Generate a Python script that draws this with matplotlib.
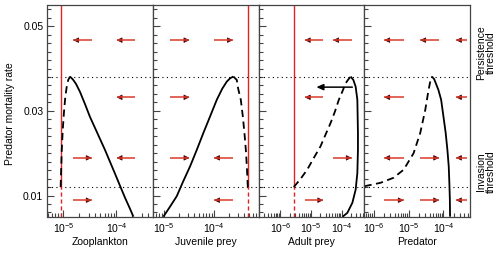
import matplotlib
matplotlib.use('Agg')
import matplotlib.pyplot as plt
import matplotlib.ticker as mt
from matplotlib.patches import FancyArrowPatch

plt.rcParams['font.family'] = ['Liberation Sans', 'DejaVu Sans']
plt.rcParams['mathtext.fontset'] = 'custom'
plt.rcParams['mathtext.rm'] = 'Liberation Sans'
plt.rcParams['mathtext.it'] = 'Liberation Sans:italic'
plt.rcParams['mathtext.default'] = 'regular'

# ---------------- data ----------------
panel_names = ['Zooplankton', 'Juvenile prey', 'Adult prey', 'Predator']
xlims = [(5.0e-6, 4.9e-4), (6.0e-6, 7.9e-4), (2.0e-7, 5.6e-4), (5.4e-7, 5.8e-4)]
ylim = (0.005, 0.055)
persistence = 0.0381
invasion = 0.012

# stable (solid) branches
zoo_stable_x = [1.33e-5, 1.51e-5, 1.72e-5, 2.05e-5, 2.55e-5, 3.16e-5, 3.93e-5, 4.88e-5,
                6.07e-5, 7.54e-5, 9.37e-5, 1.16e-4, 1.45e-4, 1.80e-4, 2.09e-4]
zoo_stable_y = [0.0381, 0.0374, 0.0364, 0.0345, 0.0316, 0.0286, 0.0260, 0.0234,
                0.0208, 0.0180, 0.0152, 0.0124, 0.0095, 0.0069, 0.0050]
juv_stable_x = [9.68e-6, 1.32e-5, 1.79e-5, 2.4e-5, 3.31e-5, 4.51e-5, 6.11e-5, 8.32e-5,
                1.13e-4, 1.45e-4, 1.79e-4, 2.09e-4, 2.43e-4]
juv_stable_y = [0.0050, 0.00741, 0.00984, 0.0133, 0.0169, 0.0208, 0.0248, 0.0287,
                0.0326, 0.0352, 0.0369, 0.0377, 0.0381]
adu_stable_x = [1.97e-4, 2.42e-4, 2.88e-4, 3.27e-4, 3.42e-4, 3.42e-4, 3.27e-4, 2.88e-4,
                2.25e-4, 1.54e-4, 1.08e-4]
adu_stable_y = [0.0381, 0.0373, 0.0357, 0.0326, 0.0248, 0.0208, 0.0153, 0.0114,
                0.0083, 0.0059, 0.0050]
pre_stable_x = [4.65e-5, 5.42e-5, 7.2e-5, 8.6e-5, 1.0e-4, 1.16e-4, 1.30e-4, 1.42e-4,
                1.48e-4, 1.53e-4, 1.55e-4]
pre_stable_y = [0.0381, 0.0375, 0.0349, 0.0326, 0.0287, 0.0248, 0.0208, 0.0169,
                0.0130, 0.0091, 0.0050]

# unstable (dashed) branches
zoo_unstable_x = [8.85e-6, 9.05e-6, 9.29e-6, 9.7e-6, 1.02e-5, 1.08e-5, 1.15e-5, 1.23e-5, 1.33e-5]
zoo_unstable_y = [0.0120, 0.0161, 0.0208, 0.0255, 0.0295, 0.0331, 0.0356, 0.0373, 0.0381]
juv_unstable_x = [2.43e-4, 2.84e-4, 3.02e-4, 3.42e-4, 3.75e-4, 4.04e-4, 4.31e-4, 4.51e-4, 4.72e-4]
juv_unstable_y = [0.0381, 0.0373, 0.0353, 0.0326, 0.0287, 0.0248, 0.0208, 0.0169, 0.0120]
adu_unstable_x = [2.73e-6, 4.53e-6, 7.5e-6, 1.24e-5, 2.04e-5, 2.99e-5, 4.35e-5, 6.03e-5,
                  8.1e-5, 1.05e-4, 1.35e-4, 1.61e-4, 1.97e-4]
adu_unstable_y = [0.0120, 0.0139, 0.0161, 0.0189, 0.0216, 0.0244, 0.0271, 0.0298,
                  0.0326, 0.0345, 0.0365, 0.0373, 0.0381]
pre_unstable_x = [5.4e-7, 1.55e-6, 3.7e-6, 7.2e-6, 1.39e-5, 2.16e-5, 3.0e-5, 3.73e-5, 4.2e-5, 4.65e-5]
pre_unstable_y = [0.0122, 0.0130, 0.0142, 0.0161, 0.0200, 0.0248, 0.0302, 0.0349, 0.0370, 0.0381]

stable_x = [zoo_stable_x, juv_stable_x, adu_stable_x, pre_stable_x]
stable_y = [zoo_stable_y, juv_stable_y, adu_stable_y, pre_stable_y]
unstable_x = [zoo_unstable_x, juv_unstable_x, adu_unstable_x, pre_unstable_x]
unstable_y = [zoo_unstable_y, juv_unstable_y, adu_unstable_y, pre_unstable_y]

# trivial-equilibrium (red) vertical lines per panel (None = none)
boundary_x = [8.85e-6, 4.72e-4, 2.73e-6, None]

# red flow arrows: (x_tail, x_head, y)
r1, r2, r3, r4 = 0.0467, 0.0332, 0.0189, 0.0089
arrows = [
    [(3.4e-5, 1.53e-5, r1), (2.23e-4, 1.01e-4, r1), (2.23e-4, 1.01e-4, r2),
     (1.53e-5, 3.4e-5, r3), (2.23e-4, 1.01e-4, r3), (1.53e-5, 3.4e-5, r4)],
    [(1.32e-5, 3.2e-5, r1), (1.0e-4, 2.37e-4, r1), (1.32e-5, 3.2e-5, r2),
     (1.32e-5, 3.2e-5, r3), (2.37e-4, 1.0e-4, r3), (2.37e-4, 1.0e-4, r4)],
    [(2.5e-5, 6.3e-6, r1), (2.13e-4, 5.3e-5, r1), (2.5e-5, 6.3e-6, r2),
     (5.3e-5, 2.13e-4, r3), (6.3e-6, 2.5e-5, r4)],
    [(7.2e-6, 2.0e-6, r1), (7.5e-5, 2.16e-5, r1), (4.85e-4, 2.3e-4, r1),
     (7.2e-6, 2.0e-6, r2), (4.85e-4, 2.3e-4, r2),
     (7.2e-6, 2.0e-6, r3), (2.16e-5, 7.5e-5, r3), (4.85e-4, 2.3e-4, r3),
     (2.0e-6, 7.2e-6, r4), (2.16e-5, 7.5e-5, r4), (4.85e-4, 2.3e-4, r4)],
]
# black arrow in adult-prey panel
black_arrow = (2.24e-4, 1.5e-5, 0.0356)

# ---------------- figure ----------------
W, H = 502, 254
fig = plt.figure(figsize=(W / 100, H / 100), dpi=100)
edges = [47.5, 153, 259, 364.5, 470]
ax_bottom = (H - 216.7) / H
ax_height = (216.7 - 5) / H

fs = 7.5
red = '#e42222'
arrow_red = '#d83a2a'
head_col = '#5a0000'
for i in range(4):
    ax = fig.add_axes([edges[i] / W, ax_bottom, (edges[i + 1] - edges[i]) / W, ax_height])
    ax.set_xscale('log')
    ax.set_xlim(*xlims[i])
    ax.set_ylim(*ylim)
    for s in ax.spines.values():
        s.set_color('#444444')
        s.set_linewidth(0.9)
    ax.xaxis.set_major_locator(mt.LogLocator(base=10, numticks=20))
    ax.xaxis.set_minor_locator(mt.LogLocator(base=10, subs=range(2, 10), numticks=50))
    ax.xaxis.set_minor_formatter(mt.NullFormatter())
    ax.yaxis.set_major_locator(mt.FixedLocator([0.01, 0.03, 0.05]))
    ax.yaxis.set_minor_locator(mt.MultipleLocator(0.002))
    ax.tick_params(which='both', direction='in', top=False, right=False,
                   labelsize=fs, color='#444444', width=0.8)
    ax.tick_params(which='major', length=5, pad=3)
    ax.tick_params(which='minor', length=2.8)
    if i == 0:
        ax.yaxis.set_major_formatter(mt.FormatStrFormatter('%.2f'))
    else:
        ax.yaxis.set_major_formatter(mt.NullFormatter())
    ax.set_xlabel(panel_names[i], fontsize=fs, labelpad=2)

    ax.axhline(persistence, color='black', lw=0.8, ls=(0, (1, 3)))
    ax.axhline(invasion, color='black', lw=0.8, ls=(0, (1, 3)))

    bx = boundary_x[i]
    if bx is not None:
        ax.plot([bx, bx], [invasion, ylim[1]], color=red, lw=1.0)
        ax.plot([bx, bx], [ylim[0], invasion], color=red, lw=1.0, ls=(0, (3, 2)))

    ax.plot(stable_x[i], stable_y[i], color='black', lw=1.3, solid_capstyle='butt')
    ax.plot(unstable_x[i], unstable_y[i], color='black', lw=1.3, ls=(0, (4, 2.5)))

    for (xt, xh, yy) in arrows[i]:
        ax.plot([xt, xh], [yy, yy], color=arrow_red, lw=1.1, solid_capstyle='butt')
        xs = xh * (xt / xh) ** 0.2
        ap = FancyArrowPatch((xs, yy), (xh, yy),
                             arrowstyle='-|>,head_length=0.32,head_width=0.16',
                             mutation_scale=10, color=head_col, lw=0.6,
                             shrinkA=0, shrinkB=0)
        ax.add_patch(ap)
    if i == 2:
        xt, xh, yy = black_arrow
        ap = FancyArrowPatch((xt, yy), (xh, yy),
                             arrowstyle='-|>,head_length=0.4,head_width=0.18',
                             mutation_scale=10, color='black', lw=1.1,
                             shrinkA=0, shrinkB=0)
        ax.add_patch(ap)

fig.text(10 / W, 1 - 113.5 / H, 'Predator mortality rate', rotation=90,
         ha='center', va='center', fontsize=fs)
fig.text(486 / W, 1 - 53 / H, 'Persistence\nthreshold', rotation=90,
         ha='center', va='center', fontsize=fs, linespacing=0.95, multialignment='center')
fig.text(486 / W, 1 - 171.5 / H, 'Invasion\nthreshold', rotation=90,
         ha='center', va='center', fontsize=fs, linespacing=0.95, multialignment='center')

fig.savefig('out.png', dpi=100)
